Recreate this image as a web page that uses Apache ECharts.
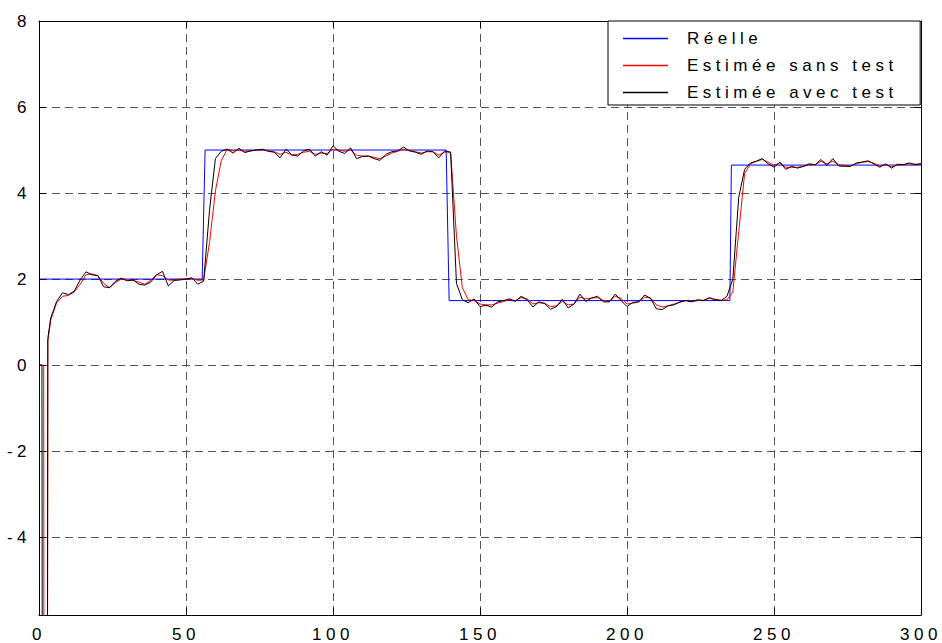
<!DOCTYPE html>
<html>
<head>
<meta charset="utf-8">
<script src="https://cdn.jsdelivr.net/npm/echarts@6/dist/echarts.min.js"></script>
<style>
  html, body { margin: 0; padding: 0; background: #fff; }
  #chart { width: 942px; height: 643px; }
  #chart text { letter-spacing: 4.5px; }
</style>
</head>
<body>
<div id="chart"></div>
<script>
// Reference signal (piecewise constant set point)
const tReelle = [0, 55.5, 56.5, 138.5, 139.5, 235, 235.5, 300];
const reelle  = [2, 2, 5, 5, 1.5, 1.5, 4.65, 4.65];

// First samples of the estimates (start-up transient, dives far below the axis)
const tHeadAvec = [0, 1, 2, 3];
const headAvec  = [0, 0, -60, 0.62];
const tHeadSans = [0, 1.6, 2.2, 3];
const headSans  = [0, 0, -60, 0.55];

// Regular sampling of the estimates afterwards: t = 4, 6, ..., 300
const tStart = 4, tStep = 2, tEnd = 300;

// Estimate with test
const avecTest = [
  1.1, 1.48, 1.68, 1.64, 1.72, 1.98, 2.17, 2.1, 2.08, 1.82,
  1.8, 1.95, 2.02, 1.96, 1.98, 1.88, 1.86, 1.93, 2.1, 2.18,
  1.84, 1.97, 1.98, 2.0, 2.03, 1.88, 1.95, 3.6, 4.8, 4.97,
  5.02, 4.93, 5.04, 4.94, 4.98, 5.0, 5.02, 4.97, 4.95, 4.82,
  5.02, 4.89, 4.86, 4.98, 5.02, 4.86, 4.96, 4.88, 5.1, 4.97,
  4.92, 5.05, 4.8, 4.85, 4.86, 4.8, 4.76, 4.9, 4.96, 4.98,
  5.07, 4.98, 4.95, 4.9, 4.98, 4.96, 4.82, 4.98, 4.95, 1.9,
  1.52, 1.45, 1.54, 1.36, 1.39, 1.35, 1.47, 1.5, 1.54, 1.48,
  1.6, 1.52, 1.35, 1.47, 1.43, 1.3, 1.36, 1.53, 1.33, 1.42,
  1.65, 1.48, 1.56, 1.6, 1.47, 1.47, 1.65, 1.5, 1.36, 1.46,
  1.47, 1.63, 1.55, 1.31, 1.29, 1.38, 1.4, 1.47, 1.5, 1.47,
  1.52, 1.5, 1.57, 1.52, 1.5, 1.6, 2.0, 3.9, 4.55, 4.7,
  4.74, 4.8, 4.68, 4.6, 4.72, 4.55, 4.62, 4.58, 4.62, 4.68,
  4.66, 4.78, 4.64, 4.8, 4.63, 4.62, 4.62, 4.7, 4.72, 4.75,
  4.68, 4.6, 4.68, 4.58, 4.67, 4.66, 4.7, 4.66, 4.68
];

// Estimate without test (slower, smoother)
const sansTest = [
  1.05, 1.45, 1.6, 1.62, 1.7, 1.88, 2.1, 2.12, 2.08, 1.9,
  1.8, 1.92, 2.0, 1.98, 1.97, 1.93, 1.88, 1.97, 2.1, 2.08,
  1.98, 1.97, 2.0, 2.0, 2.01, 1.97, 1.98, 2.85, 4.05, 4.75,
  5.02, 4.98, 5.0, 4.97, 4.98, 5.0, 5.0, 4.98, 4.96, 4.9,
  4.95, 4.88, 4.9, 4.95, 4.97, 4.9, 4.93, 4.92, 5.02, 5.0,
  4.97, 5.0, 4.88, 4.86, 4.86, 4.83, 4.8, 4.86, 4.93, 4.97,
  5.02, 4.99, 4.96, 4.93, 4.96, 4.96, 4.88, 4.95, 4.95, 3.0,
  1.8, 1.52, 1.5, 1.42, 1.4, 1.4, 1.44, 1.48, 1.52, 1.5,
  1.57, 1.54, 1.42, 1.45, 1.44, 1.36, 1.38, 1.48, 1.4, 1.42,
  1.58, 1.54, 1.56, 1.57, 1.5, 1.48, 1.6, 1.55, 1.42, 1.44,
  1.47, 1.58, 1.56, 1.4, 1.35, 1.38, 1.42, 1.46, 1.5, 1.48,
  1.5, 1.51, 1.55, 1.53, 1.51, 1.52, 1.7, 3.1, 4.45, 4.68,
  4.74, 4.78, 4.72, 4.64, 4.7, 4.6, 4.6, 4.6, 4.62, 4.66,
  4.66, 4.74, 4.68, 4.74, 4.66, 4.64, 4.63, 4.68, 4.72, 4.73,
  4.69, 4.63, 4.66, 4.61, 4.65, 4.66, 4.68, 4.67, 4.68
];

const seriesNames = ['Réelle', 'Estimée sans test', 'Estimée avec test'];
const seriesColors = ['#0000ff', '#ff0000', '#000000'];
const xMin = 0, xMax = 300, xStep = 50;
const yMin = -5.81, yMax = 8, yStep = 2;

const tGrid = [];
for (let t = tStart; t <= tEnd; t += tStep) tGrid.push(t);

function pairs(ts, vs) { return ts.map((t, i) => [t, vs[i]]); }

const FONT = 'Liberation Sans, Arial, Helvetica, sans-serif';
const gridLine = { show: true, lineStyle: { color: '#555', width: 1, type: [8, 5] } };
const axisLineStyle = { show: true, onZero: false, lineStyle: { color: '#000', width: 1 } };
const tickStyle = { show: true, inside: true, length: 7, lineStyle: { color: '#000', width: 1 } };
const labelStyle = { color: '#000', fontSize: 17, fontFamily: FONT };

const chart = echarts.init(document.getElementById('chart'), null, { renderer: 'svg' });
chart.setOption({
  animation: false,
  backgroundColor: '#fff',
  color: seriesColors,
  grid: { left: 39, right: 21, top: 21, bottom: 26, containLabel: false },
  legend: {
    data: seriesNames.map((name, i) => ({
      name: name,
      icon: 'rect',
      itemStyle: { color: seriesColors[i], borderWidth: 0, opacity: 1 }
    })),
    orient: 'vertical',
    left: 608,
    top: 21,
    padding: [9, 99, 4, 15],
    itemWidth: 45,
    itemHeight: 1.5,
    itemGap: 10,
    backgroundColor: '#fff',
    borderColor: '#000',
    borderWidth: 1,
    borderRadius: 0,
    itemStyle: { borderWidth: 0 },
    textStyle: { color: '#000', fontSize: 17, fontFamily: FONT, padding: [0, 0, 0, 14] }
  },
  xAxis: [
    {
      type: 'value', min: xMin, max: xMax, interval: xStep, position: 'bottom',
      axisLine: axisLineStyle, axisTick: tickStyle,
      axisLabel: Object.assign({ margin: 11 }, labelStyle),
      splitLine: gridLine
    },
    {
      type: 'value', min: xMin, max: xMax, interval: xStep, position: 'top',
      axisLine: axisLineStyle, axisTick: tickStyle,
      axisLabel: { show: false }, splitLine: { show: false }
    }
  ],
  yAxis: [
    {
      type: 'value', min: yMin, max: yMax, splitNumber: 7, minInterval: yStep, maxInterval: yStep,
      position: 'left',
      axisLine: axisLineStyle, axisTick: tickStyle,
      axisLabel: Object.assign({ margin: 8, showMinLabel: false }, labelStyle),
      splitLine: gridLine
    },
    {
      type: 'value', min: yMin, max: yMax, splitNumber: 7, minInterval: yStep, maxInterval: yStep,
      position: 'right',
      axisLine: axisLineStyle, axisTick: tickStyle,
      axisLabel: { show: false }, splitLine: { show: false }
    }
  ],
  series: [
    {
      name: seriesNames[0], type: 'line', symbol: 'none', clip: true,
      xAxisIndex: 0, yAxisIndex: 0,
      itemStyle: { color: seriesColors[0] },
      lineStyle: { width: 1, color: seriesColors[0] },
      data: pairs(tReelle, reelle)
    },
    {
      name: seriesNames[1], type: 'line', symbol: 'none', clip: true,
      xAxisIndex: 0, yAxisIndex: 0,
      itemStyle: { color: seriesColors[1] },
      lineStyle: { width: 1, color: seriesColors[1] },
      data: pairs(tHeadSans, headSans).concat(pairs(tGrid, sansTest))
    },
    {
      name: seriesNames[2], type: 'line', symbol: 'none', clip: true,
      xAxisIndex: 0, yAxisIndex: 0,
      itemStyle: { color: seriesColors[2] },
      lineStyle: { width: 1, color: seriesColors[2] },
      data: pairs(tHeadAvec, headAvec).concat(pairs(tGrid, avecTest))
    }
  ]
});
</script>
</body>
</html>
